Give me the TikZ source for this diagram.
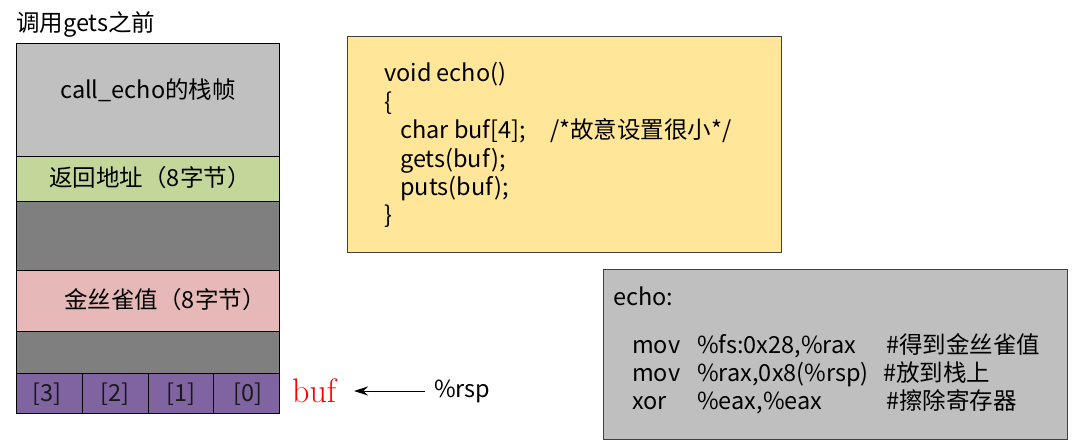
\documentclass[tikz,border=0pt]{standalone}
\usepackage{fontspec}
\newfontfamily\cjk{Noto Sans CJK SC}
\usetikzlibrary{arrows.meta}
\definecolor{gtop}{HTML}{C0C0C0}
\definecolor{ggreen}{HTML}{C4D79B}
\definecolor{gdark}{HTML}{7F7F7F}
\definecolor{gpink}{HTML}{E6B9B8}
\definecolor{gpurple}{HTML}{8064A2}
\definecolor{gyellow}{HTML}{FFE699}
\definecolor{ggray}{HTML}{BFBFBF}
\begin{document}
\begin{tikzpicture}[x=1pt,y=-1pt,
  cell/.style={draw=black, line width=1pt, anchor=north west, inner sep=0pt},
  panel/.style={draw=black!75, line width=1pt, anchor=north west, inner sep=0pt},
  txt/.style={font=\cjk\fontsize{23.5}{23.5}\selectfont, inner sep=0pt, text height=0.88em, text depth=0.12em, yshift=-4.5pt},
  lbl/.style={txt, anchor=west},
  ctr/.style={txt, anchor=center}]
\useasboundingbox (0,0) rectangle (1072,441);
% title
\node[lbl] (title) at (16,23) {调用gets之前};
% stack
\node[cell, fill=gtop, minimum width=263, minimum height=113] (frame) at (16,43) {};
\node[cell, fill=ggreen, minimum width=263, minimum height=45] (ret) at (16,156) {};
\node[cell, fill=gdark, minimum width=263, minimum height=69] (pad1) at (16,201) {};
\node[cell, fill=gpink, minimum width=263, minimum height=61] (canary) at (16,270) {};
\node[cell, fill=gdark, minimum width=263, minimum height=42] (pad2) at (16,331) {};
\node[cell, fill=gpurple, minimum width=66, minimum height=40] (b3) at (16,373) {};
\node[cell, fill=gpurple, minimum width=66, minimum height=40] (b2) at (82,373) {};
\node[cell, fill=gpurple, minimum width=65, minimum height=40] (b1) at (148,373) {};
\node[cell, fill=gpurple, minimum width=66, minimum height=40] (b0) at (213,373) {};
\node[ctr] (tframe) at (148,90) {call\_echo的栈帧};
\node[ctr] (tret) at (150,178) {返回地址（8字节）};
\node[ctr] (tcan) at (165,300) {金丝雀值（8字节）};
\node[ctr, text=black!90] (t3) at (47,393) {[3]};
\node[ctr, text=black!90] (t2) at (115,393) {[2]};
\node[ctr, text=black!90] (t1) at (181,393) {[1]};
\node[ctr, text=black!90] (t0) at (248,393) {[0]};
% buf and rsp
\node[anchor=west, inner sep=0pt, text=red, font=\fontsize{34}{34}\selectfont] (buf) at (292,391) {buf};
\node[lbl] (rsp) at (434,389) {\%rsp};
\coordinate (re) at (354,391);
\draw[-{Stealth[length=14pt,width=9pt]}, line width=1pt] ([xshift=-9pt]rsp.west |- re) -- (re);
% C code box
\node[panel, fill=gyellow, minimum width=434, minimum height=216] (code) at (347,36) {};
\node[lbl] (c1) at (384,73) {void echo()};
\node[lbl] (c2) at (384,102) {\{};
\node[lbl] (c3) at (400,130) {char buf[4];};
\node[lbl] (c3b) at (550,130) {/*故意设置很小*/};
\node[lbl] (c4) at (400,159) {gets(buf);};
\node[lbl] (c5) at (400,187) {puts(buf);};
\node[lbl] (c6) at (384,215) {\}};
% asm box
\node[panel, fill=ggray, minimum width=464, minimum height=170] (asm) at (603,269) {};
\node[lbl] (a0) at (613,297) {echo:};
\node[lbl] (a1) at (632,345) {mov};
\node[lbl] (a1b) at (697,345) {\%fs:0x28,\%rax};
\node[lbl] (a1c) at (886,345) {\#得到金丝雀值};
\node[lbl] (a2) at (632,373) {mov};
\node[lbl] (a2b) at (697,373) {\%rax,0x8(\%rsp)};
\node[lbl] (a2c) at (883,373) {\#放到栈上};
\node[lbl] (a3) at (632,401) {xor};
\node[lbl] (a3b) at (697,401) {\%eax,\%eax};
\node[lbl] (a3c) at (886,401) {\#擦除寄存器};
\end{tikzpicture}
\end{document}
